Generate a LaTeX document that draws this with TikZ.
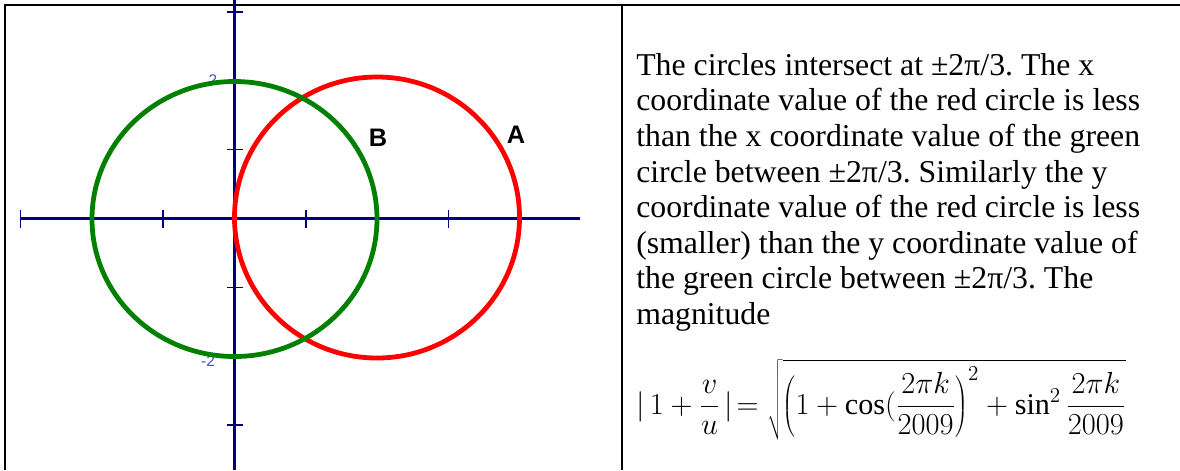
\documentclass[tikz,border=0pt]{standalone}
\usepackage{fontspec}
\setmainfont{Liberation Serif}
\newfontfamily\markfont{Liberation Sans}
\usetikzlibrary{positioning}

\definecolor{axisblue}{RGB}{0,0,128}
\definecolor{ticklabel}{RGB}{70,80,200}
\definecolor{circgreen}{RGB}{0,128,0}
\definecolor{circred}{RGB}{255,0,0}

\tikzset{
  frameline/.style={line width=2.1pt, black},
  axisline/.style={line width=2.8pt, axisblue},
  tickline/.style={line width=1.1pt, axisblue},
  curve/.style={line width=3.4pt},
  circlename/.style={font=\markfont\bfseries\fontsize{18}{20}\selectfont},
  axisnum/.style={font=\markfont\fontsize{11}{12}\selectfont, text=ticklabel, inner sep=0pt}
}

\begin{document}
\frenchspacing
\begin{tikzpicture}[x=0.025cm, y=-0.025cm]

	\useasboundingbox (0, 0) rectangle (1180, 470);

	% table lines
	\coordinate (tl) at (5, 5);
	\coordinate (tr) at (1180, 5);
	\coordinate (bl) at (5, 470);
	\coordinate (mt) at (622, 5);
	\coordinate (mb) at (622, 470);
	\draw[frameline] (bl) -- (tl) -- (tr);
	\draw[frameline] (mt) -- (mb);

	% axes
	\coordinate (xL) at (20, 218.5);
	\coordinate (xR) at (580, 218.5);
	\coordinate (yT) at (234.5, 0);
	\coordinate (yB) at (234.5, 470);
	\draw[axisline] (xL) -- (xR);
	\draw[axisline] (yT) -- (yB);

	\draw[tickline]
	(20.6, 210) -- (20.6, 228)   (91.9, 210) -- (91.9, 228)
	(163.2, 210) -- (163.2, 228) (305.8, 210) -- (305.8, 228)
	(377.1, 210) -- (377.1, 228) (448.4, 210) -- (448.4, 228)
	(519.7, 210) -- (519.7, 228)
	(227, 12) -- (243, 12)       (227, 80.6) -- (243, 80.6)
	(227, 149.3) -- (243, 149.3) (227, 287.7) -- (243, 287.7)
	(227, 356.4) -- (243, 356.4) (227, 425.1) -- (243, 425.1);

	\node (two) [axisnum] at (213, 80) {2};
	\node (mtwo) [axisnum] at (208, 361) {-2};

	% the circles
	\draw[curve, circred] (377, 217.5) circle [x radius=142.5, y radius=140.5];
	\draw[curve, circgreen] (234.5, 219) circle [x radius=142.5, y radius=137.5];

	\node (B) [circlename] at (378, 138) {B};
	\node (A) [circlename] at (516, 135) {A};

	% explanation
	\node (txt) [anchor=north west, inner sep=0pt, align=left,
		font=\fontsize{22.6}{25.3}\selectfont] at (636, 53) {%
		The circles intersect at ±2π/3. The x\\
		coordinate value of the red circle is less\\
		than the x coordinate value of the green\\
		circle between ±2π/3. Similarly the y\\
		coordinate value of the red circle is less\\
		(smaller) than the y coordinate value of\\
		the green circle between ±2π/3. The\\
		magnitude};

	\node (mag) [anchor=base west, inner sep=0pt, scale=1.045,
		font=\fontsize{20.5}{24}\selectfont] at (636, 414)
		{$\displaystyle |\,1+\frac{v}{u}\,|\!=\sqrt{\left(1+\cos(\frac{2\pi k}{2009}\right)^{2}+\sin^{2}\frac{2\pi k}{2009}}$};

\end{tikzpicture}
\end{document}
